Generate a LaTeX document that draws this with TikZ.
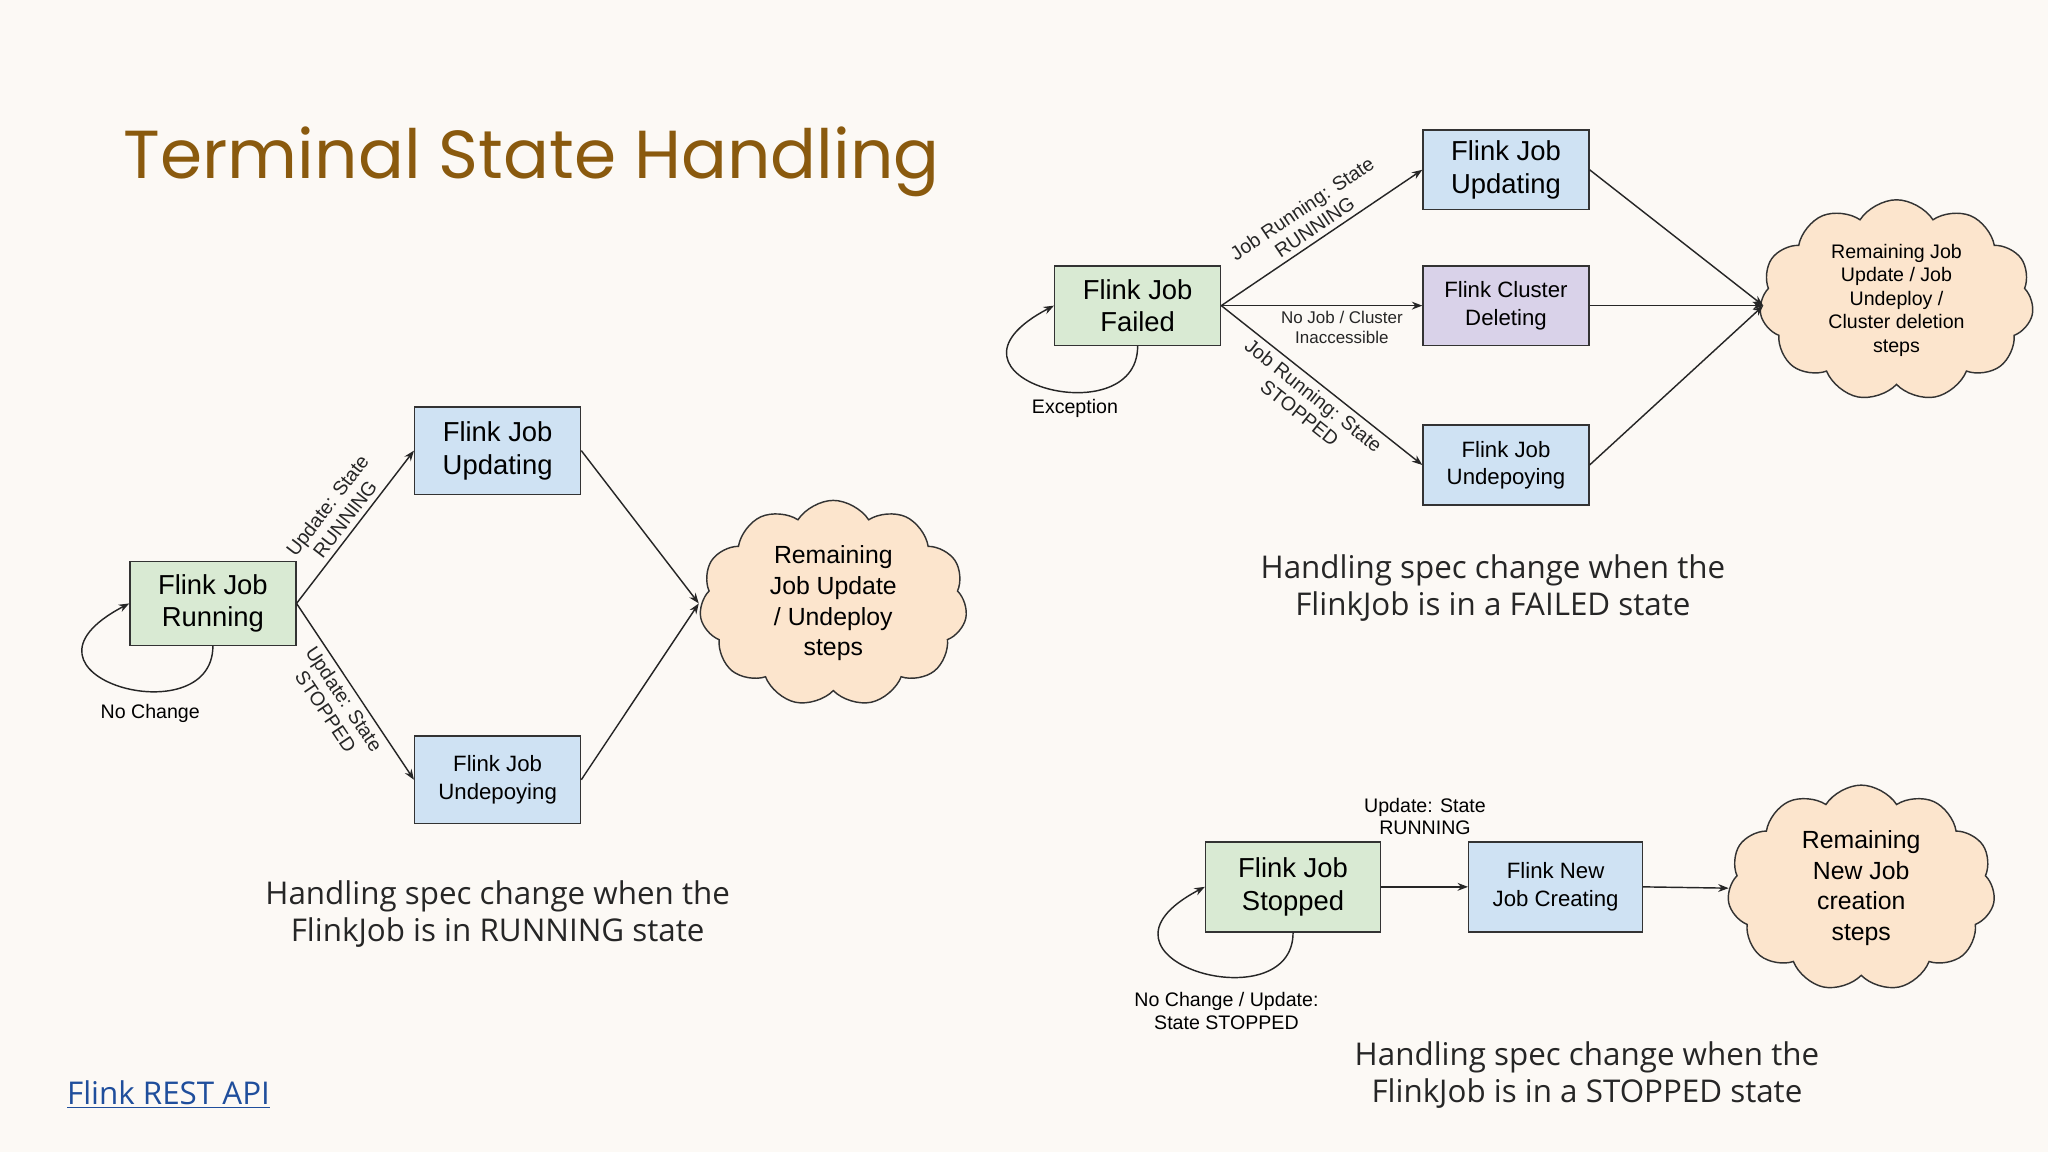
\documentclass[tikz,border=0pt]{standalone}
\usepackage{fontspec}
\setmainfont{Liberation Sans}
\newfontfamily\capfont{Open Sans}
\newfontfamily\titlefont{Poppins}
\usetikzlibrary{shapes.symbols,arrows.meta}
\definecolor{bg}{HTML}{FCF9F5}
\definecolor{gbox}{HTML}{D9EAD3}
\definecolor{bbox}{HTML}{CFE2F3}
\definecolor{pbox}{HTML}{D9D2E9}
\definecolor{cloudc}{HTML}{FCE5CD}
\definecolor{titlec}{HTML}{8A5A0E}
\definecolor{linkc}{HTML}{1F4E9C}
\tikzset{
 box/.style={draw=black!80,line width=1.1pt,minimum width=127pt,minimum height=64pt,align=center,inner sep=2pt,font=\fontsize{21}{25}\selectfont},
 sbox/.style={box,font=\fontsize{17}{21}\selectfont},
 cl/.style={cloud,cloud puffs=11,cloud puff arc=115,aspect=1.4,draw=black!80,fill=cloudc,line width=1.1pt,align=center},
 arr/.style={-{Stealth[length=8pt,width=6pt]},line width=1.1pt,black!85},
 elab/.style={font=\fontsize{15}{17}\selectfont,align=center,inner sep=4pt},
 slab/.style={font=\fontsize{13}{15.5}\selectfont,align=center},
 capt/.style={font=\capfont\fontsize{24}{28.5}\selectfont,align=center,text=black!85},
 loop/.style={arr},
}
\begin{document}
\begin{tikzpicture}[x=1pt,y=1pt]
\fill[bg] (0,0) rectangle (1568,-882);
\useasboundingbox (0,0) rectangle (1568,-882);
\node[text=titlec,font=\titlefont\fontsize{52}{56}\selectfont] (title) at (407,-124) {Terminal State Handling};
\node[text=linkc,font=\capfont\fontsize{24}{28}\selectfont] (link) at (129,-838) {\underline{Flink REST API}};
% left
\node[box,fill=gbox] (run) at (163,-462) {Flink Job\\Running};
\node[box,fill=bbox,minimum height=67pt] (updL) at (381,-345) {Flink Job\\Updating};
\node[sbox,fill=bbox,minimum height=67pt] (undL) at (381,-597) {Flink Job\\Undepoying};
\node[cl,minimum width=205pt,minimum height=150pt,font=\fontsize{19}{23.5}\selectfont] (cloudL) at (638,-462) {Remaining\\Job Update\\/ Undeploy\\steps};
\coordinate (inL) at (535,-462);
\draw[arr] (run.east) -- node[elab,sloped,above] {Update: State\\RUNNING} (updL.west);
\draw[arr] (run.east) -- node[elab,sloped,below] {Update: State\\STOPPED} (undL.west);
\draw[arr] (updL.east) -- (inL);
\draw[arr] (undL.east) -- (inL);
\draw[loop] (run.south) .. controls +(0,-70) and +(-105,-55) .. (run.west);
\node[elab] (nc) at (115,-546) {No Change};
\node[capt] (capL) at (381,-700) {Handling spec change when the\\FlinkJob is in RUNNING state};
% top right
\node[box,fill=gbox,minimum height=61pt] (fail) at (871,-234) {Flink Job\\Failed};
\node[box,fill=bbox,minimum height=61pt] (updR) at (1153,-130) {Flink Job\\Updating};
\node[sbox,fill=pbox,minimum height=61pt] (del) at (1153,-234) {Flink Cluster\\Deleting};
\node[sbox,fill=bbox,minimum height=61pt] (undR) at (1153,-356) {Flink Job\\Undepoying};
\node[cl,minimum width=210pt,minimum height=135pt,font=\fontsize{15}{18}\selectfont] (cloudR) at (1452,-230) {Remaining Job\\Update / Job\\Undeploy /\\Cluster deletion\\steps};
\coordinate (inR) at (1350,-234);
\draw[arr] (fail.east) -- node[elab,sloped,above] {Job Running: State\\RUNNING} (updR.west);
\draw[arr] (fail.east) -- node[slab,below,pos=0.6] {No Job / Cluster\\Inaccessible} (del.west);
\draw[arr] (fail.east) -- node[elab,sloped,below] {Job Running: State\\STOPPED} (undR.west);
\draw[arr] (updR.east) -- (inR);
\draw[arr] (del.east) -- (inR);
\draw[arr] (undR.east) -- (inR);
\draw[loop] (fail.south) .. controls +(0,-70) and +(-105,-55) .. (fail.west);
\node[elab] (exc) at (823,-313) {Exception};
\node[capt] (capR) at (1143,-450) {Handling spec change when the\\FlinkJob is in a FAILED state};
% bottom right
\node[box,fill=gbox,minimum width=134pt,minimum height=69pt] (stop) at (990,-679) {Flink Job\\Stopped};
\node[sbox,fill=bbox,minimum width=133pt,minimum height=69pt] (newj) at (1191,-679) {Flink New\\Job Creating};
\node[cl,minimum width=205pt,minimum height=150pt,font=\fontsize{19}{23.5}\selectfont] (cloudB) at (1425,-680) {Remaining\\New Job\\creation\\steps};
\draw[arr] (stop.east) -- (newj.west);
\draw[arr] (newj.east) -- (cloudB.west);
\node[elab] (ulab) at (1091,-625) {Update: State\\RUNNING};
\draw[loop] (stop.south) .. controls +(0,-70) and +(-105,-55) .. (stop.west);
\node[elab] (nclab) at (939,-774) {No Change / Update:\\State STOPPED};
\node[capt] (capB) at (1215,-823) {Handling spec change when the\\FlinkJob is in a STOPPED state};
\end{tikzpicture}
\end{document}
